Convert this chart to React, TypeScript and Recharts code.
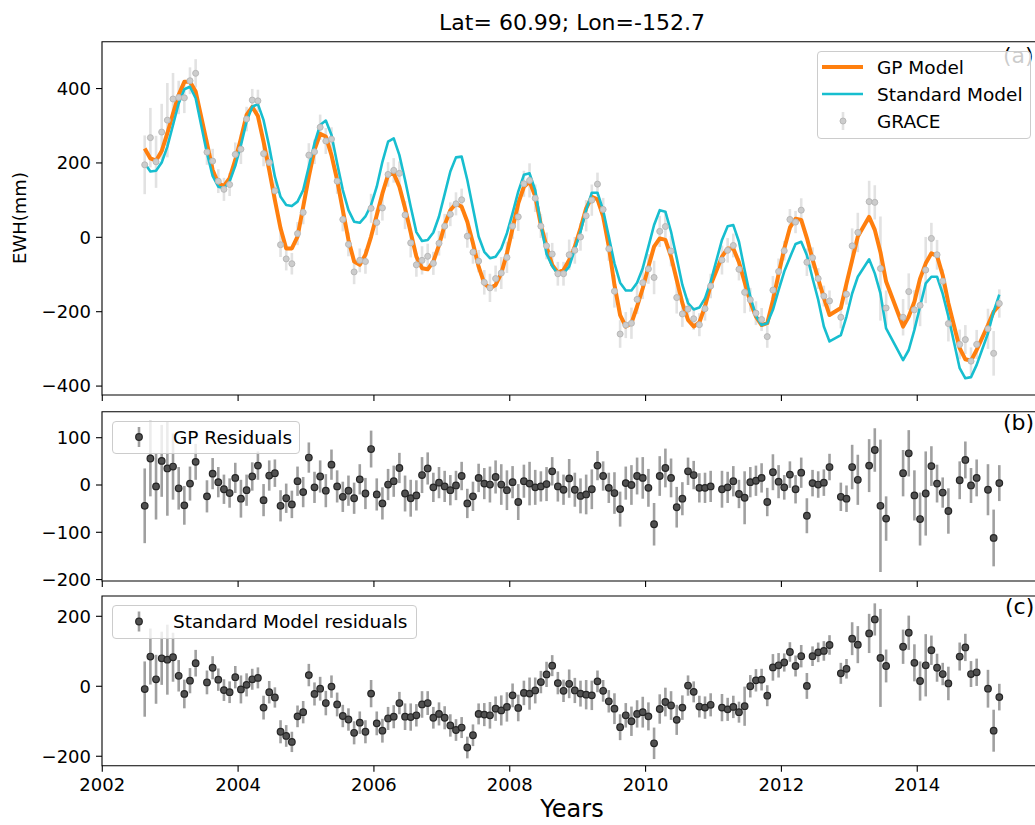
import React from "react"
import {
  ComposedChart,
  Customized,
  ErrorBar,
  Line,
  ReferenceArea,
  Scatter,
  XAxis,
  YAxis,
} from "recharts"

// monthly GRACE solutions, counted in months from Aug 2002 (gaps are missing months)
const MONTHS = [
  0, 1, 2, 3, 4, 5, 6, 7, 8, 9,
  11, 12, 13, 14, 15, 16, 17, 18, 19, 20,
  21, 22, 23, 24, 25, 26, 27, 28, 29, 30,
  31, 32, 33, 34, 35, 36, 37, 38, 39, 40,
  41, 42, 43, 44, 45, 46, 47, 48, 49, 50,
  51, 52, 53, 54, 55, 56, 57, 58, 59, 60,
  61, 62, 63, 64, 65, 66, 67, 68, 69, 70,
  71, 72, 73, 74, 75, 76, 77, 78, 79, 80,
  81, 82, 83, 84, 85, 86, 87, 88, 89, 90,
  91, 92, 93, 94, 95, 96, 97, 98, 99, 100,
  102, 103, 104, 105, 106, 107, 108, 109, 110, 111,
  112, 113, 114, 115, 116, 117, 118, 119, 120, 121,
  123, 124, 125, 126,
  128, 129, 130, 131,
  134, 135, 136, 137, 138, 139, 140, 141, 142,
  144, 145, 146, 147,
  149, 150, 151,
]

const GRACE_EWH = [
  195, 268, 203, 283, 315, 372, 376, 375, 421, 441,
  229, 205, 151, 129, 142, 223, 237, 318, 369, 367,
  225, 201, 125, -20, -58, -71, 10, 67, 221, 230,
  296, 259, 264, 151, 48, -19, -93, -62, -65, 78,
  40, 79, 169, 180, 172, 60, -15, -74, -62, -51,
  -70, -16, 30, 62, 90, 101, 3, -40, -64, -121,
  -136, -111, -96, -54, 30, 55, 144, 153, 105, 30,
  -23, -45, -98, -98, -47, -35, 1, 58, 100, 143,
  75, -31, -145, -260, -236, -231, -167, -122, -85, -108,
  16, 29, -37, -162, -206, -193, -219, -235, -192, -131,
  -61, -35, -22, -86, -148, -168, -204, -221, -267, -142,
  -92, -36, 48, 41, 73, -67, -55, -111, -158, -171,
  -215, -153, -23, 13,
  96, 94, -84, -190,
  -215, -146, -195, -183, -88, -3, -47, -118, -232,
  -288, -275, -333, -288,
  -246, -312, -178,
]

const GRACE_ERR = [
  79, 80, 70, 76, 100, 70, 45, 41, 36, 38,
  34, 33, 32, 31, 31, 32, 40, 33, 30, 30,
  34, 32, 29, 33, 31, 29, 31, 32, 32, 33,
  34, 35, 32, 34, 32, 32, 33, 32, 33, 39,
  34, 34, 33, 33, 32, 38, 39, 32, 38, 34,
  31, 33, 33, 32, 31, 30, 31, 31, 30, 33,
  38, 35, 43, 42, 34, 38, 35, 46, 37, 32,
  36, 30, 32, 32, 41, 36, 37, 42, 42, 31,
  31, 32, 44, 37, 35, 42, 39, 44, 40, 45,
  42, 41, 41, 43, 35, 29, 30, 31, 32, 33,
  39, 33, 32, 30, 56, 32, 32, 31, 30, 38,
  35, 26, 28, 30, 32, 37, 28, 28, 28, 28,
  30, 28, 47, 53,
  56, 46, 140, 47,
  49, 49, 53, 56, 89, 42, 40, 32, 48,
  40, 39, 37, 39,
  54, 60, 38,
]

const GP_MODEL = [
  239, 212, 206, 232, 280, 333, 383, 418, 418, 392,
  253, 181, 145, 138, 159, 208, 266, 329, 351, 326,
  257, 181, 100, 24, -30, -30, 2, 82, 163, 235,
  278, 271, 221, 154, 73, -7, -65, -74, -47, 2,
  60, 118, 168, 172, 136, 78, 13, -52, -83, -86,
  -65, -21, 33, 73, 91, 82, 42, -16, -79, -124,
  -137, -128, -97, -43, 24, 91, 136, 150, 110, 33,
  -25, -74, -95, -88, -61, -25, 24, 78, 109, 102,
  56, -25, -128, -209, -240, -231, -186, -137, -79, -25,
  -3, -7, -52, -115, -177, -222, -240, -229, -186, -128,
  -52, -30, -30, -67, -121, -174, -213, -236, -231, -169,
  -99, -31, 26, 50, 47, -2, -59, -112, -163, -209,
  -190, -124, -61, 2,
  55, 20, -40, -119,
  -240, -213, -173, -111, -70, -43, -50, -102, -177,
  -298, -328, -332, -303,
  -236, -200, -182,
]

const STD_MODEL = [
  199, 177, 179, 201, 244, 302, 360, 398, 405, 374,
  226, 165, 136, 132, 150, 192, 248, 311, 351, 358,
  315, 244, 163, 109, 87, 84, 96, 127, 190, 253,
  302, 314, 275, 199, 127, 73, 42, 39, 56, 87,
  136, 203, 257, 266, 221, 154, 82, 14, -10, -7,
  13, 56, 116, 177, 215, 217, 154, 78, 2, -39,
  -56, -52, -30, 11, 65, 123, 168, 172, 127, 35,
  -45, -77, -99, -97, -79, -32, 15, 73, 120, 120,
  73, 2, -70, -122, -143, -143, -122, -83, -25, 33,
  73, 69, 15, -56, -128, -177, -194, -189, -164, -119,
  -7, 30, 33, -12, -88, -159, -211, -236, -231, -195,
  -142, -92, -54, -18, -12, -48, -110, -168, -240, -280,
  -263, -213, -151, -106,
  -59, -97, -151, -245,
  -330, -303, -249, -186, -124, -106, -106, -152, -213,
  -352, -379, -376, -343,
  -258, -200, -154,
]

const GP_RESID = [
  -44, 56, -3, 51, 35, 39, -7, -43, 3, 49,
  -24, 24, 6, -9, -17, 15, -29, -11, 18, 41,
  -32, 20, 25, -44, -28, -41, 8, -15, 58, -5,
  18, -12, 43, -3, -25, -12, -28, 12, -18, 76,
  -20, -39, 1, 8, 36, -18, -28, -22, 21, 35,
  -5, 5, -3, -11, -1, 19, -39, -24, 15, 3,
  1, 17, 1, -11, 6, -36, 8, 3, -5, -3,
  2, 29, -3, -10, 14, -10, -23, -20, -9, 41,
  19, -6, -17, -51, 4, 0, 19, 15, -6, -83,
  19, 36, 15, -47, -29, 29, 21, -6, -6, -3,
  -9, -5, 8, -19, -27, 6, 9, 15, -36, 27,
  7, -5, 22, -9, 26, -65, 4, 1, 5, 38,
  -25, -29, 38, 11,
  41, 74, -44, -71,
  25, 67, -22, -72, -18, 40, 3, -16, -55,
  10, 53, -1, 15,
  -10, -112, 4,
]

const STD_RESID = [
  -8, 85, 20, 80, 76, 83, 30, -22, 16, 66,
  11, 53, 19, -11, -17, 26, -9, 4, 20, 24,
  -61, -17, -32, -130, -142, -159, -86, -74, 32, -22,
  -7, -48, -1, -52, -85, -95, -133, -104, -130, -21,
  -106, -127, -92, -87, -48, -87, -88, -83, -52, -48,
  -90, -79, -90, -112, -125, -118, -175, -140, -79, -81,
  -83, -64, -69, -59, -26, -62, -19, -21, -12, 12,
  34, 59, 9, -13, 7, -12, -21, -24, -26, 14,
  -13, -43, -64, -117, -83, -100, -79, -74, -86, -163,
  -65, -45, -55, -96, -61, 2, -16, -58, -61, -53,
  -61, -66, -59, -74, -57, 0, 17, 19, -27, 54,
  60, 68, 98, 58, 86, 1, 86, 97, 101, 118,
  37, 50, 136, 119,
  151, 191, 81, 58,
  113, 153, 67, 15, 60, 103, 53, 35, 8,
  85, 111, 35, 40,
  -7, -127, -31,
]

const YEAR_TICKS = [2002, 2004, 2006, 2008, 2010, 2012, 2014]
const EWH_TICKS = [-400, -200, 0, 200, 400]
const GP_RES_TICKS = [-200, -100, 0, 100]
const STD_RES_TICKS = [-200, 0, 200]

const X_DOMAIN: [number, number] = [2001.996, 2015.837]
const FONT = "DejaVu Sans"
const GP_COLOR = "#ff7f0e"
const STD_COLOR = "#17becf"

const rows = MONTHS.map((m, i) => ({
  t: 2002.625 + m / 12,
  grace: GRACE_EWH[i],
  err: GRACE_ERR[i],
  gp: GP_MODEL[i],
  std: STD_MODEL[i],
  rgp: GP_RESID[i],
  rstd: STD_RESID[i],
}))

const CHART_W = 1060
const MARGIN_LEFT = 42
const Y_AXIS_W = 60
const MARGIN_RIGHT = 18

const minus = (v: number) => (v < 0 ? `\u2212${-v}` : String(v))
const tickStyle = { fill: "#000", fontSize: 18, fontFamily: FONT }
const tickLine = { stroke: "#000", strokeWidth: 1.1 }

const graceDot = (p: any) => (
  <circle cx={p.cx} cy={p.cy} r={3} fill="#cccccc" stroke="#b8b8b8" strokeWidth={1} />
)
const residDot = (p: any) => (
  <circle cx={p.cx} cy={p.cy} r={3.3} fill="#505050" stroke="#262626" strokeWidth={1.2} />
)

function axes(yDomain: [number, number], yTicks: number[], xHeight: number, labels: boolean) {
  return [
    <XAxis
      key="x"
      dataKey="t"
      type="number"
      domain={X_DOMAIN}
      allowDataOverflow
      ticks={YEAR_TICKS}
      interval={0}
      height={xHeight}
      tickSize={6}
      tickMargin={7}
      axisLine={false}
      tickLine={tickLine}
      tick={tickStyle}
      tickFormatter={labels ? (v: number) => String(v) : () => ""}
    />,
    <YAxis
      key="y"
      type="number"
      domain={yDomain}
      allowDataOverflow
      ticks={yTicks}
      interval={0}
      width={Y_AXIS_W}
      tickSize={6}
      tickMargin={5}
      axisLine={false}
      tickLine={tickLine}
      tick={tickStyle}
      tickFormatter={minus}
    />,
    <ReferenceArea
      key="box"
      x1={X_DOMAIN[0]}
      x2={X_DOMAIN[1]}
      y1={yDomain[0]}
      y2={yDomain[1]}
      fill="none"
      stroke="#000"
      strokeWidth={1.1}
      ifOverflow="visible"
    />,
  ]
}

function LegendBox({
  left,
  top,
  width,
  height,
  children,
}: {
  left: number
  top: number
  width: number
  height: number
  children: React.ReactNode
}) {
  return (
    <div
      style={{
        position: "absolute",
        left,
        top,
        width,
        height,
        boxSizing: "border-box",
        border: "1px solid #cccccc",
        borderRadius: 4,
        background: "rgba(255,255,255,0.8)",
      }}
    >
      <svg width={width} height={height} style={{ position: "absolute", left: -1, top: -1 }}>
        <g fontFamily={FONT} fontSize={18.5} fill="#000">
          {children}
        </g>
      </svg>
    </div>
  )
}

function ResidLegendMarker({ x, y }: { x: number; y: number }) {
  return (
    <g>
      <line x1={x} x2={x} y1={y - 10} y2={y + 10} stroke="#a0a0a0" strokeWidth={2.6} />
      <circle cx={x} cy={y} r={3.3} fill="#505050" stroke="#262626" strokeWidth={1.2} />
    </g>
  )
}

export default function App() {
  return (
    <div
      style={{
        position: "absolute",
        left: 0,
        top: 0,
        width: 1035,
        height: 825,
        overflow: "hidden",
        background: "#fff",
      }}
    >
      {/* (a) GRACE and the two models */}
      <div style={{ position: "absolute", left: 0, top: 0 }}>
        <ComposedChart
          width={CHART_W}
          height={405}
          data={rows}
          margin={{ top: 41.7, right: MARGIN_RIGHT, bottom: 0, left: MARGIN_LEFT }}
        >
          {axes([-424, 526], EWH_TICKS, 10, false)}
          <Scatter dataKey="grace" shape={graceDot} isAnimationActive={false}>
            <ErrorBar dataKey="err" direction="y" width={0} stroke="#e2e2e2" strokeWidth={2.6} />
          </Scatter>
          <Line
            dataKey="gp"
            stroke={GP_COLOR}
            strokeWidth={4}
            dot={false}
            strokeLinejoin="round"
            isAnimationActive={false}
          />
          <Line
            dataKey="std"
            stroke={STD_COLOR}
            strokeWidth={2.6}
            dot={false}
            strokeLinejoin="round"
            isAnimationActive={false}
          />
          <Customized
            component={() => (
              <g fontFamily={FONT} fill="#000">
                <text x={572} y={30} textAnchor="middle" fontSize={22}>
                  Lat= 60.99; Lon=-152.7
                </text>
                <text
                  transform="translate(19,218) rotate(-90)"
                  textAnchor="middle"
                  dominantBaseline="central"
                  fontSize={18}
                >
                  EWH(mm)
                </text>
                <text x={1003} y={63} fontSize={22}>
                  (a)
                </text>
              </g>
            )}
          />
        </ComposedChart>
      </div>

      {/* (b) GP residuals */}
      <div style={{ position: "absolute", left: 0, top: 400 }}>
        <ComposedChart
          width={CHART_W}
          height={191}
          data={rows}
          margin={{ top: 11.7, right: MARGIN_RIGHT, bottom: 0, left: MARGIN_LEFT }}
        >
          {axes([-203, 155], GP_RES_TICKS, 10, false)}
          <Scatter dataKey="rgp" shape={residDot} isAnimationActive={false}>
            <ErrorBar dataKey="err" direction="y" width={0} stroke="#a0a0a0" strokeWidth={2.6} />
          </Scatter>
          <Customized
            component={() => (
              <text x={1003} y={30} fontSize={22} fontFamily={FONT} fill="#000">
                (b)
              </text>
            )}
          />
        </ComposedChart>
      </div>

      {/* (c) standard model residuals */}
      <div style={{ position: "absolute", left: 0, top: 585 }}>
        <ComposedChart
          width={CHART_W}
          height={240}
          data={rows}
          margin={{ top: 11, right: MARGIN_RIGHT, bottom: 0, left: MARGIN_LEFT }}
        >
          {axes([-227, 258], STD_RES_TICKS, 59.3, true)}
          <Scatter dataKey="rstd" shape={residDot} isAnimationActive={false}>
            <ErrorBar dataKey="err" direction="y" width={0} stroke="#a0a0a0" strokeWidth={2.6} />
          </Scatter>
          <Customized
            component={() => (
              <g fontFamily={FONT} fill="#000">
                <text x={1005} y={29} fontSize={22}>
                  (c)
                </text>
                <text x={572} y={232} textAnchor="middle" fontSize={24}>
                  Years
                </text>
              </g>
            )}
          />
        </ComposedChart>
      </div>

      <LegendBox left={816.7} top={50.7} width={214} height={88}>
        <line x1={5} x2={46} y1={16} y2={16} stroke={GP_COLOR} strokeWidth={4} />
        <text x={60} y={16} dominantBaseline="central">GP Model</text>
        <line x1={5} x2={46} y1={43} y2={43} stroke={STD_COLOR} strokeWidth={2.6} />
        <text x={60} y={43} dominantBaseline="central">Standard Model</text>
        <line x1={26} x2={26} y1={61} y2={79} stroke="#e2e2e2" strokeWidth={2.6} />
        <circle cx={26} cy={70} r={3} fill="#cccccc" stroke="#b8b8b8" strokeWidth={1} />
        <text x={60} y={70} dominantBaseline="central">GRACE</text>
      </LegendBox>

      <LegendBox left={111.7} top={420.7} width={188} height={33}>
        <ResidLegendMarker x={27} y={16} />
        <text x={61} y={16} dominantBaseline="central">GP Residuals</text>
      </LegendBox>

      <LegendBox left={111.7} top={605} width={305} height={34}>
        <ResidLegendMarker x={27} y={16.5} />
        <text x={61} y={16.5} dominantBaseline="central">Standard Model residuals</text>
      </LegendBox>
    </div>
  )
}
